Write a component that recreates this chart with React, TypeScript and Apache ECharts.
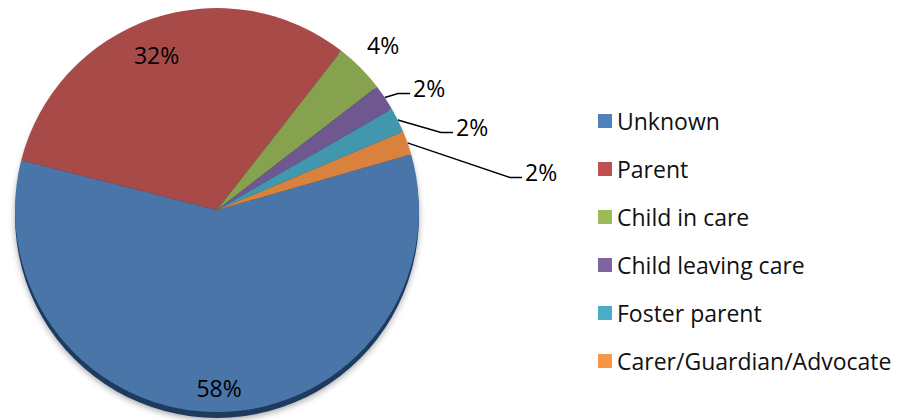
import React, { useEffect, useRef } from "react";
import * as echarts from "echarts";

const CATEGORIES = [
  "Unknown",
  "Parent",
  "Child in care",
  "Child leaving care",
  "Foster parent",
  "Carer/Guardian/Advocate",
];
const VALUES = [58.4, 31.6, 4.0, 2.1, 2.0, 1.9];

const SLICE_COLORS = ["#4a75a8", "#a84b48", "#87a24f", "#6f5790", "#4197ad", "#d8823d"];
const LEGEND_COLORS = ["#4f81bd", "#c0504d", "#9bbb59", "#8064a2", "#4bacc6", "#f79646"];
const LABEL_PLACE = ["inside", "inside", "outside", "outside", "outside", "outside"];
const LABEL_LINE_SHOWN = [false, false, false, true, true, true];
// nudges of each percentage label away from the library's default spot
const LABEL_NUDGE = [
  [0.5, 74.5],
  [-26.8, -56.9],
  [-17.4, -16],
  [-0.1, 1.5],
  [29.2, 16.9],
  [88.1, 38],
];

const FONT = "'Open Sans', 'Noto Sans', sans-serif";

export default function App() {
  const ref = useRef<HTMLDivElement>(null);
  useEffect(() => {
    if (!ref.current) return;
    const chart = echarts.init(ref.current, undefined, { renderer: "svg" });
    const center = [217, 210];
    const radius = 202;
    const pct = (p: any) => Math.round(p.percent) + "%";
    chart.setOption({
      animation: false,
      backgroundColor: "#ffffff",
      legend: {
        orient: "vertical",
        left: 598,
        top: 109,
        padding: 0,
        icon: "rect",
        itemWidth: 14,
        itemHeight: 14,
        itemGap: 24,
        textStyle: { fontFamily: FONT, fontSize: 23, color: "#111", lineHeight: 24 },
        data: CATEGORIES.map((name, i) => ({ name, itemStyle: { color: LEGEND_COLORS[i] } })),
      },
      series: [
        {
          type: "pie",
          silent: true,
          center: [center[0], center[1] + 6],
          radius,
          z: 1,
          label: { show: false },
          labelLine: { show: false },
          itemStyle: {
            color: "#1e3a5e",
            shadowColor: "rgba(0,0,0,0.35)",
            shadowBlur: 6,
            shadowOffsetY: 2,
          },
          data: [{ name: "depth", value: 1 }],
        },
        {
          type: "pie",
          center,
          radius,
          z: 2,
          startAngle: 16,
          clockwise: true,
          avoidLabelOverlap: false,
          itemStyle: { borderWidth: 0 },
          label: {
            fontFamily: FONT,
            fontSize: 23,
            color: "#000",
            formatter: pct,
          },
          labelLine: {
            length: 10,
            length2: 12,
            lineStyle: { color: "#000", width: 1.5 },
          },
          labelLayout: (p: any) => {
            if (p.seriesIndex !== 1) return {};
            const [dx, dy] = LABEL_NUDGE[p.dataIndex];
            const r = p.labelRect;
            const inside = LABEL_PLACE[p.dataIndex] === "inside";
            return {
              x: (inside ? r.x + r.width / 2 : r.x) + dx,
              y: r.y + r.height / 2 + dy,
            };
          },
          data: CATEGORIES.map((name, i) => ({
            name,
            value: VALUES[i],
            itemStyle: { color: SLICE_COLORS[i] },
            label: LABEL_LINE_SHOWN[i]
              ? {
                  position: LABEL_PLACE[i],
                  padding: [0, 0, 0, 3],
                  lineHeight: 12,
                  formatter: (p: any) => pct(p) + "\n ",
                }
              : { position: LABEL_PLACE[i] },
            labelLine: { show: LABEL_LINE_SHOWN[i] },
          })),
        },
      ],
    });
    return () => chart.dispose();
  }, []);
  return (
    <div
      ref={ref}
      style={{ position: "fixed", left: 0, top: 0, width: 904, height: 420 }}
    />
  );
}
